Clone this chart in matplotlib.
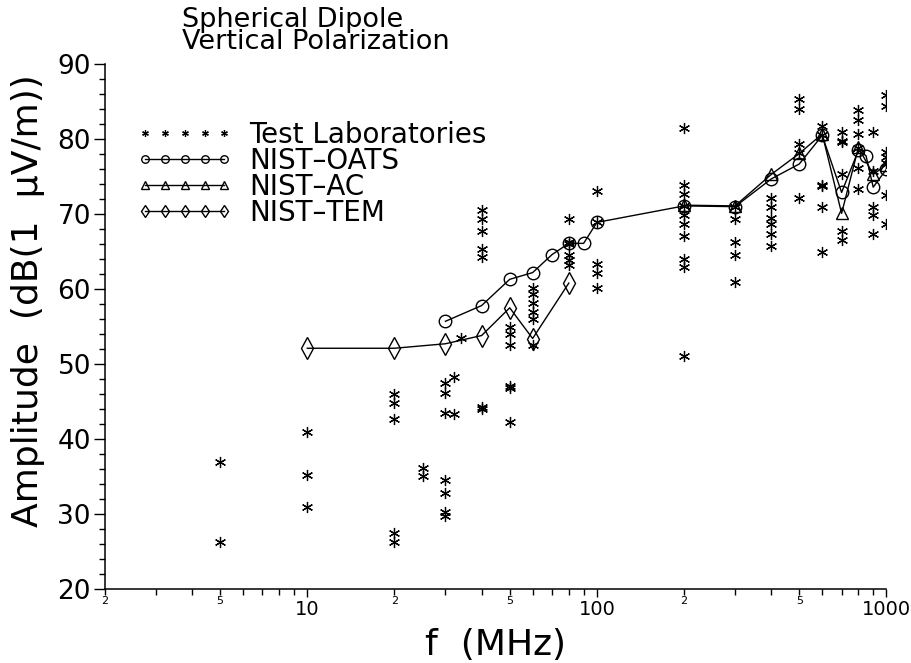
import matplotlib
matplotlib.use("Agg")
import matplotlib.pyplot as plt
from matplotlib.ticker import FixedLocator, FuncFormatter, MultipleLocator

plt.rcParams["font.family"] = ["DejaVu Sans"]

# NIST reference measurements
oats_freq = [30, 40, 50, 60, 70, 80, 90, 100, 200, 300, 400, 500, 600, 700, 800, 850, 900, 1000]
oats_amp = [55.7, 57.8, 61.3, 62.2, 64.6, 66.1, 66.1, 68.9, 71.1, 71.0, 74.7, 76.7, 80.5, 72.9, 78.5, 77.8, 73.6, 76.0]

ac_freq = [200, 300, 400, 500, 600, 700, 800, 900, 1000]
ac_amp = [71.2, 71.1, 75.3, 78.1, 80.7, 70.1, 78.9, 75.3, 76.6]

tem_freq = [10, 20, 30, 40, 50, 60, 80]
tem_amp = [52.1, 52.1, 52.7, 53.8, 57.5, 53.4, 60.8]

# test laboratory results, grouped by frequency column
lab_freq = (
    [5] * 2 + [10] * 3 + [20] * 5 + [25] * 2 + [30] * 7 + [32] * 2 + [34] * 1
    + [40] * 7 + [50] * 6 + [60] * 6 + [80] * 6 + [100] * 5 + [200] * 10
    + [300] * 5 + [400] * 6 + [500] * 5 + [600] * 6 + [700] * 6 + [800] * 6
    + [900] * 5 + [1000] * 7
)
lab_amp = (
    [36.9, 26.3]
    + [40.9, 35.2, 30.9]
    + [46.0, 44.8, 42.7, 27.5, 26.3]
    + [36.1, 35.0]
    + [47.4, 46.1, 43.4, 34.5, 32.8, 30.3, 29.7]
    + [48.2, 43.3]
    + [53.5]
    + [70.5, 69.3, 67.7, 65.4, 64.3, 44.0, 44.2]
    + [55.0, 54.0, 52.5, 47.0, 46.8, 42.2]
    + [60.1, 59.3, 58.2, 57.0, 56.0, 52.6]
    + [69.4, 66.3, 66.0, 64.6, 63.9, 63.2]
    + [73.1, 68.9, 63.3, 62.1, 60.2]
    + [81.5, 73.9, 72.7, 71.1, 69.9, 68.7, 67.1, 64.0, 62.9, 51.0]
    + [71.0, 69.4, 66.3, 64.6, 61.0]
    + [72.2, 70.9, 69.5, 68.7, 67.4, 65.8]
    + [85.4, 84.1, 79.4, 78.1, 72.2]
    + [81.7, 80.5, 73.9, 73.7, 71.0, 65.0]
    + [81.0, 79.8, 79.6, 75.3, 67.7, 66.6]
    + [83.9, 82.6, 80.7, 78.8, 76.1, 73.3]
    + [81.0, 75.7, 70.9, 69.9, 67.3]
    + [85.9, 84.4, 78.3, 77.6, 76.8, 72.5, 68.7]
)

major_x = [10, 100, 1000]
minor_x = [m * d for d in (1, 10, 100) for m in range(2, 10) if m * d > 1]
minor_labeled = (2, 5)

star = (6, 2, 0)

fig = plt.figure(figsize=(9.12, 6.63), dpi=100)
ax = fig.add_axes([0.115, 0.112, 0.857, 0.791])

ax.plot(lab_freq, lab_amp, ls="none", marker=star, ms=8, mew=0.9, color="k",
        label="Test Laboratories")
ax.plot(oats_freq, oats_amp, "-", color="k", lw=1.0, marker="o", ms=9, mfc="none",
        mew=1.0, label="NIST\u2013OATS")
ax.plot(ac_freq, ac_amp, "-", color="k", lw=1.0, marker="^", ms=9, mfc="none",
        mew=1.0, label="NIST\u2013AC")
ax.plot(tem_freq, tem_amp, "-", color="k", lw=1.0, marker="d", ms=11, mfc="none",
        mew=1.0, label="NIST\u2013TEM")

ax.set_xscale("log")
ax.set_xlim(2, 1000)
ax.set_ylim(20, 90)

ax.xaxis.set_major_locator(FixedLocator(major_x))
ax.xaxis.set_major_formatter(FuncFormatter(lambda v, p: f"{v:g}"))
ax.xaxis.set_minor_locator(FixedLocator(minor_x))


def minor_fmt(v, pos):
    lead = round(v / 10 ** int(f"{v:e}".split("e")[1]))
    return str(lead) if lead in minor_labeled else ""


ax.xaxis.set_minor_formatter(FuncFormatter(minor_fmt))
ax.yaxis.set_major_locator(MultipleLocator(10))
ax.yaxis.set_minor_locator(MultipleLocator(2))

ax.tick_params(axis="x", which="major", direction="out", length=6, width=1, pad=2,
               labelsize=14)
ax.tick_params(axis="x", which="minor", direction="out", length=4.5, width=1, pad=1,
               labelsize=8)
ax.tick_params(axis="y", which="major", direction="out", length=8, width=1, pad=2,
               labelsize=19)
ax.tick_params(axis="y", which="minor", direction="out", length=4.5, width=1)

for side in ("top", "right"):
    ax.spines[side].set_visible(False)
for side in ("left", "bottom"):
    ax.spines[side].set_linewidth(1.1)

ax.set_xlabel("f  (MHz)", fontsize=26)
ax.xaxis.set_label_coords(0.5, -0.074)
ax.set_ylabel("Amplitude  (dB(1  \u03bcV/m))", fontsize=26)
ax.yaxis.set_label_coords(-0.077, 0.55)

fig.text(0.2, 0.99, "Spherical Dipole\nVertical Polarization", fontsize=19.5,
         va="top", ha="left", linespacing=0.82)

ax.legend(loc="upper left", bbox_to_anchor=(0.150, 0.818), bbox_transform=fig.transFigure,
          frameon=False, numpoints=5, markerscale=0.6, handlelength=3.45,
          handletextpad=0.6, labelspacing=-0.07, fontsize=20, borderpad=0,
          borderaxespad=0)

fig.savefig("out.png", dpi=100)
